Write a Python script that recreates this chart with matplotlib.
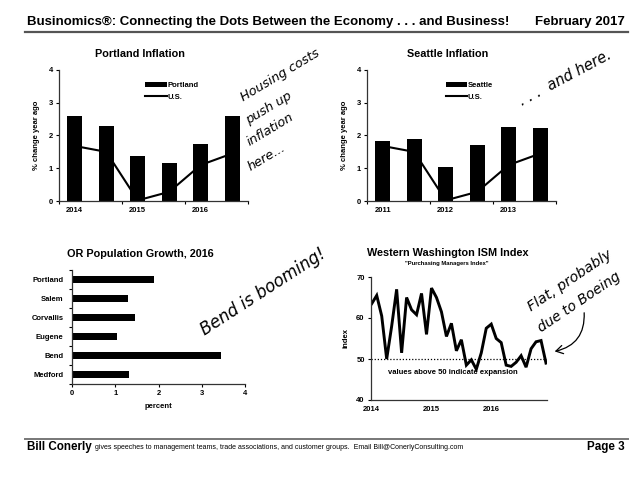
import matplotlib.pyplot as plt
from matplotlib.patches import FancyArrowPatch

# ---- data ----
half_years = ['2014 H1', '2014 H2', '2015 H1', '2015 H2', '2016 H1', '2016 H2']
portland_cpi = [2.6, 2.28, 1.37, 1.15, 1.73, 2.6]
us_cpi = [1.68, 1.5, 0.02, 0.28, 1.1, 1.45]
portland_years = ['2014', '2015', '2016']

seattle_cpi = [1.83, 1.9, 1.03, 1.72, 2.25, 2.23]
seattle_years = ['2011', '2012', '2013']

cities = ['Portland', 'Salem', 'Corvallis', 'Eugene', 'Bend', 'Medford']
pop_growth = [1.9, 1.3, 1.45, 1.05, 3.45, 1.32]

# monthly, Jan 2014 .. Dec 2016
ism = [63.5, 65.5, 60.5, 50.0, 58.0, 67.0, 51.5, 65.0, 62.0, 60.8, 66.0, 56.0,
       67.3, 65.0, 61.5, 55.5, 58.7, 52.0, 54.7, 48.5, 49.8, 47.5, 51.5, 57.5,
       58.5, 55.0, 54.0, 48.5, 48.2, 49.2, 50.8, 48.0, 52.5, 54.2, 54.5, 49.0]
ism_years = ['2014', '2015', '2016']

FONT = 'Liberation Sans'
HAND = 'DejaVu Sans'
W, H = 640, 480


def fx(x):
    return x / W


def fy(y):
    return 1 - y / H


def px_axes(fig, x0, y0, x1, y1):
    return fig.add_axes([fx(x0), fy(y1), fx(x1 - x0), (y1 - y0) / H])


def style_axes(ax):
    for s in ['top', 'right']:
        ax.spines[s].set_visible(False)
    for s in ['left', 'bottom']:
        ax.spines[s].set_linewidth(0.9)
        ax.spines[s].set_color('#333333')
    ax.tick_params(labelsize=5.5, width=0.8, length=2.5, pad=2)
    for lab in ax.get_xticklabels() + ax.get_yticklabels():
        lab.set_fontweight('bold')
        lab.set_fontfamily(FONT)


def inflation_chart(ax, vals, label, year_labels, legend_x):
    x = list(range(len(vals)))
    bars = ax.bar(x, vals, width=0.48, color='black')
    line, = ax.plot(x, us_cpi, color='black', lw=1.5)
    ax.set_xlim(-0.5, 5.5)
    ax.set_ylim(0, 4)
    ax.set_yticks([0, 1, 2, 3, 4])
    ax.set_xticks([-0.5, 1.5, 3.5, 5.5])
    ax.set_xticklabels([])
    ax.set_xticks([0, 2, 4], minor=True)
    ax.set_xticklabels(year_labels, minor=True)
    ax.tick_params(axis='x', which='minor', length=0, labelsize=5.5, pad=4)
    ax.set_ylabel('% change year ago', fontsize=5.5, fontweight='bold',
                  fontfamily=FONT, labelpad=6)
    style_axes(ax)
    for lab in ax.get_xticklabels(minor=True):
        lab.set_fontweight('bold')
        lab.set_fontfamily(FONT)
    ax.legend([bars, line], [label, 'U.S.'], loc='upper left',
              bbox_to_anchor=(legend_x, 0.93), frameon=False,
              prop={'family': FONT, 'weight': 'bold', 'size': 5.5},
              handlelength=2.8, handleheight=0.5, handletextpad=0.1,
              labelspacing=0.6, borderaxespad=0)


fig = plt.figure(figsize=(6.4, 4.8), dpi=100)
fig.patch.set_facecolor('white')

# ---- header / footer ----
fig.text(fx(27), fy(22), 'Businomics\u00ae: Connecting the Dots Between the Economy . . . and Business!',
         fontsize=9.5, fontweight='bold', fontfamily=FONT, va='center', ha='left')
fig.text(fx(625), fy(22), 'February 2017', fontsize=9.5, fontweight='bold',
         fontfamily=FONT, va='center', ha='right')
fig.add_artist(plt.Line2D([fx(25), fx(628)], [fy(32), fy(32)], color='#555555', lw=1.6))

fig.add_artist(plt.Line2D([fx(25), fx(628)], [fy(439), fy(439)], color='#777777', lw=1.4))
fig.text(fx(27), fy(447), 'Bill Conerly', fontsize=8.4, fontweight='bold',
         fontfamily=FONT, va='center', ha='left')
fig.text(fx(95), fy(447.5), 'gives speeches to management teams, trade associations, and customer groups.  '
         'Email Bill@ConerlyConsulting.com', fontsize=5.0, fontfamily=FONT,
         va='center', ha='left')
fig.text(fx(625), fy(447), 'Page 3', fontsize=8.4, fontweight='bold',
         fontfamily=FONT, va='center', ha='right')

# ---- Portland inflation ----
ax1 = px_axes(fig, 59, 70, 248, 201)
inflation_chart(ax1, portland_cpi, 'Portland', portland_years, 0.44)
fig.text(fx(140), fy(54), 'Portland Inflation', fontsize=7.8, fontweight='bold',
         fontfamily=FONT, ha='center', va='center')

# ---- Seattle inflation ----
ax2 = px_axes(fig, 367, 70, 556, 201)
inflation_chart(ax2, seattle_cpi, 'Seattle', seattle_years, 0.4)
fig.text(fx(448), fy(54), 'Seattle Inflation', fontsize=7.8, fontweight='bold',
         fontfamily=FONT, ha='center', va='center')

# ---- OR population growth ----
ax3 = px_axes(fig, 72, 270, 245, 384)
ax3.barh(range(len(cities)), pop_growth, height=0.4, color='black')
ax3.set_ylim(5.5, -0.5)
ax3.set_xlim(0, 4)
ax3.set_xticks([0, 1, 2, 3, 4])
ax3.set_yticks([i - 0.5 for i in range(7)])
ax3.set_yticklabels([])
ax3.set_yticks(range(len(cities)), minor=True)
ax3.set_yticklabels(cities, minor=True)
ax3.tick_params(axis='y', which='minor', length=0, labelsize=5.5, pad=6)
ax3.set_xlabel('percent', fontsize=5.5, fontweight='bold', fontfamily=FONT, labelpad=4)
style_axes(ax3)
for lab in ax3.get_yticklabels(minor=True):
    lab.set_fontweight('bold')
    lab.set_fontfamily(FONT)
fig.text(fx(140), fy(254), 'OR Population Growth, 2016', fontsize=7.8,
         fontweight='bold', fontfamily=FONT, ha='center', va='center')

# ---- Western Washington ISM ----
ax4 = px_axes(fig, 371, 277, 547, 400)
months = list(range(len(ism)))
ax4.plot(months, ism, color='black', lw=2.1, solid_joinstyle='miter')
ax4.axhline(50, color='black', lw=0.9, ls=(0, (1, 1.5)))
ax4.set_xlim(-0.15, 35.2)
ax4.set_ylim(40, 70)
ax4.set_yticks([40, 50, 60, 70])
ax4.set_xticks([0, 12, 24])
ax4.set_xticklabels(ism_years)
ax4.set_ylabel('index', fontsize=5.5, fontweight='bold', fontfamily=FONT, labelpad=5)
style_axes(ax4)
ax4.tick_params(axis='x', length=0, pad=4)
fig.text(fx(453), fy(373), 'values above 50 indicate expansion', fontsize=5.5,
         fontweight='bold', fontfamily=FONT, ha='center', va='center')
fig.text(fx(448), fy(253), 'Western Washington ISM Index', fontsize=7.8,
         fontweight='bold', fontfamily=FONT, ha='center', va='center')
fig.text(fx(447), fy(264), '"Purchasing Managers Index"', fontsize=4.2,
         fontweight='bold', fontfamily=FONT, ha='center', va='center')

# ---- handwritten notes ----
hand = dict(fontfamily=HAND, fontstyle='oblique', fontweight='normal',
            rotation_mode='anchor', ha='left', va='baseline')
fig.text(fx(243), fy(101), 'Housing costs', fontsize=9.3, rotation=31, **hand)
fig.text(fx(248), fy(124), 'push up', fontsize=9.3, rotation=31, **hand)
fig.text(fx(250), fy(146), 'inflation', fontsize=9.3, rotation=31, **hand)
fig.text(fx(251), fy(171), 'here...', fontsize=9.3, rotation=31, **hand)
fig.text(fx(522), fy(106), '. . .  and here.', fontsize=10.5, rotation=28, **hand)
fig.text(fx(205), fy(336), 'Bend is booming!', fontsize=12, rotation=33, **hand)
fig.text(fx(531), fy(312), 'Flat, probably', fontsize=10.3, rotation=34, **hand)
fig.text(fx(541), fy(333), 'due to Boeing', fontsize=10, rotation=34, **hand)
arrow = FancyArrowPatch((fx(584), fy(310)), (fx(552), fy(352)),
                        transform=fig.transFigure, connectionstyle='arc3,rad=-0.45',
                        arrowstyle='->,head_length=5,head_width=3', color='black', lw=0.9)
fig.add_artist(arrow)

fig.savefig('out.png', dpi=100)
